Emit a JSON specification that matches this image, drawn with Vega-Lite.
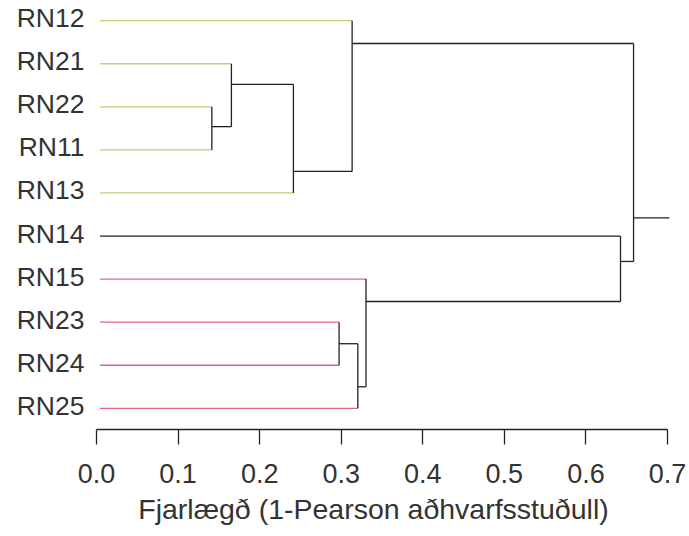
{
  "$schema": "https://vega.github.io/schema/vega-lite/v6.json",
  "autosize": {"type": "none"},
  "width": 571,
  "height": 429,
  "padding": {"left": 96, "top": 0, "right": 22, "bottom": 107},
  "background": "white",
  "config": {"view": {"stroke": null}, "font": "Liberation Sans"},
  "data": {
    "values": [
      {"x": 0.005, "x2": 0.314, "y": 0, "y2": 0, "g": "green"},
      {"x": 0.005, "x2": 0.166, "y": 1, "y2": 1, "g": "green"},
      {"x": 0.005, "x2": 0.142, "y": 2, "y2": 2, "g": "green"},
      {"x": 0.005, "x2": 0.142, "y": 3, "y2": 3, "g": "green"},
      {"x": 0.005, "x2": 0.242, "y": 4, "y2": 4, "g": "green"},
      {"x": 0.005, "x2": 0.643, "y": 5, "y2": 5, "g": "black"},
      {"x": 0.005, "x2": 0.331, "y": 6, "y2": 6, "g": "red"},
      {"x": 0.005, "x2": 0.298, "y": 7, "y2": 7, "g": "red"},
      {"x": 0.005, "x2": 0.298, "y": 8, "y2": 8, "g": "red"},
      {"x": 0.005, "x2": 0.321, "y": 9, "y2": 9, "g": "red"},
      {"x": 0.142, "x2": 0.142, "y": 2, "y2": 3, "g": "black"},
      {"x": 0.142, "x2": 0.166, "y": 2.46, "y2": 2.46, "g": "black"},
      {"x": 0.166, "x2": 0.166, "y": 1, "y2": 2.46, "g": "black"},
      {"x": 0.166, "x2": 0.242, "y": 1.48, "y2": 1.48, "g": "black"},
      {"x": 0.242, "x2": 0.242, "y": 1.48, "y2": 4, "g": "black"},
      {"x": 0.242, "x2": 0.314, "y": 3.5, "y2": 3.5, "g": "black"},
      {"x": 0.314, "x2": 0.314, "y": 0, "y2": 3.5, "g": "black"},
      {"x": 0.314, "x2": 0.659, "y": 0.53, "y2": 0.53, "g": "black"},
      {"x": 0.659, "x2": 0.659, "y": 0.53, "y2": 5.59, "g": "black"},
      {"x": 0.643, "x2": 0.659, "y": 5.59, "y2": 5.59, "g": "black"},
      {"x": 0.643, "x2": 0.643, "y": 5, "y2": 6.52, "g": "black"},
      {"x": 0.331, "x2": 0.643, "y": 6.52, "y2": 6.52, "g": "black"},
      {"x": 0.331, "x2": 0.331, "y": 6, "y2": 8.5, "g": "black"},
      {"x": 0.321, "x2": 0.331, "y": 8.5, "y2": 8.5, "g": "black"},
      {"x": 0.321, "x2": 0.321, "y": 7.5, "y2": 9, "g": "black"},
      {"x": 0.298, "x2": 0.321, "y": 7.5, "y2": 7.5, "g": "black"},
      {"x": 0.298, "x2": 0.298, "y": 7, "y2": 8, "g": "black"},
      {"x": 0.659, "x2": 0.703, "y": 4.58, "y2": 4.58, "g": "black"}
    ]
  },
  "mark": {"type": "rule", "strokeWidth": 1.3, "clip": false},
  "encoding": {
    "x": {
      "field": "x", "type": "quantitative",
      "scale": {"domain": [0, 0.7], "nice": false, "zero": false},
      "axis": {
        "values": [0, 0.1, 0.2, 0.3, 0.4, 0.5, 0.6, 0.7],
        "format": ".1f",
        "grid": false,
        "domainColor": "#222", "domainWidth": 1.3,
        "tickColor": "#222", "tickWidth": 1.3, "tickSize": 15,
        "labelFontSize": 27, "labelColor": "#333", "labelPadding": 17,
        "labelFlush": false, "labelOverlap": false,
        "title": "Fjarlægð (1-Pearson aðhvarfsstuðull)",
        "titleFontSize": 28.5, "titleFontWeight": "normal", "titleColor": "#333",
        "titlePadding": 8,
        "titleX": 277
      }
    },
    "x2": {"field": "x2"},
    "y": {
      "field": "y", "type": "quantitative",
      "scale": {"domain": [-0.48, 9.48], "nice": false, "zero": false, "reverse": true},
      "axis": {
        "values": [0, 1, 2, 3, 4, 5, 6, 7, 8, 9],
        "labelExpr": "['RN12','RN21','RN22','RN11','RN13','RN14','RN15','RN23','RN24','RN25'][datum.value]",
        "domain": false, "ticks": false, "grid": false,
        "labelFontSize": 26.5, "labelColor": "#333", "labelPadding": 12,
        "labelOffset": -2,
        "title": null
      }
    },
    "y2": {"field": "y2"},
    "color": {
      "field": "g", "type": "nominal", "legend": null,
      "scale": {"domain": ["green", "red", "black"], "range": ["#b5d67a", "#e8607a", "#222222"]}
    }
  }
}
